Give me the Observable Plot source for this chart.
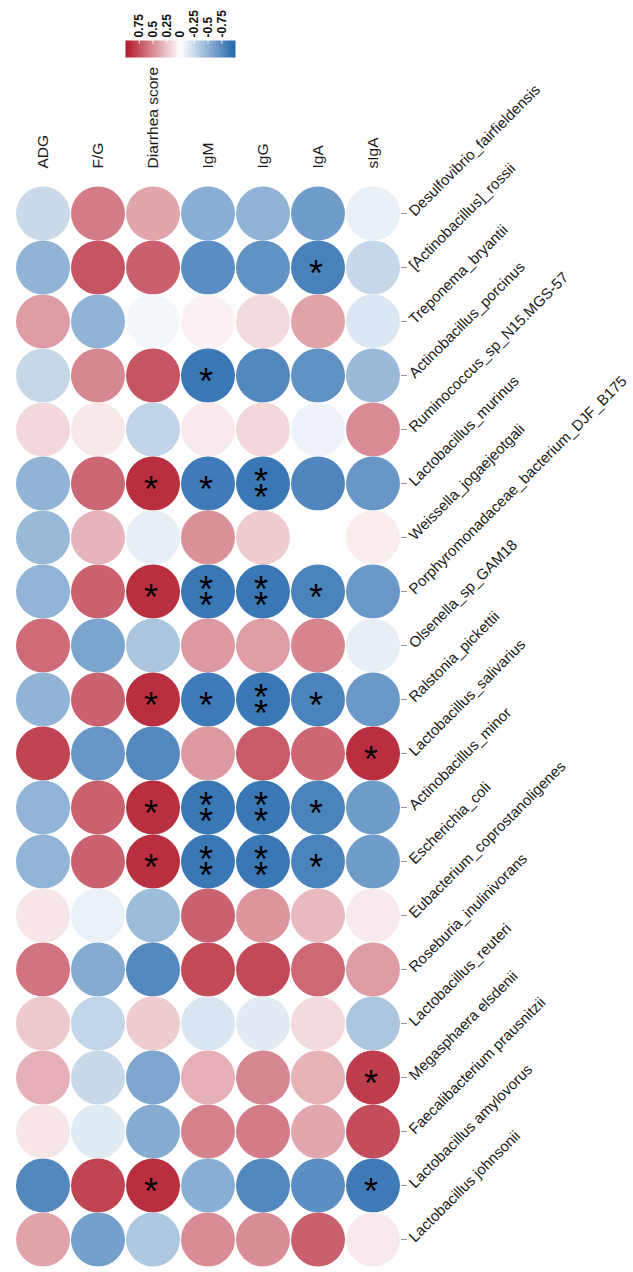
<!DOCTYPE html>
<html>
<head>
<meta charset="utf-8">
<script src="https://cdn.jsdelivr.net/npm/d3@7"></script>
<script src="https://cdn.jsdelivr.net/npm/@observablehq/plot@0.6"></script>
<style>
  body { margin: 0; background: #fff; }
  #wrap { position: relative; width: 633px; height: 1272px; overflow: hidden; }
  #legend { position: absolute; left: 0; top: 0; }
  #main { position: absolute; left: 0; top: 0; }
</style>
</head>
<body>
<div id="wrap"><div id="main"></div><div id="legend"></div></div>
<script>
const columns = ["ADG", "F/G", "Diarrhea score", "IgM", "IgG", "IgA", "sIgA"];
const taxa = [
  "Desulfovibrio_fairfieldensis",
  "[Actinobacillus]_rossii",
  "Treponema_bryantii",
  "Actinobacillus_porcinus",
  "Ruminococcus_sp_N15.MGS-57",
  "Lactobacillus_murinus",
  "Weissella_jogaejeotgali",
  "Porphyromonadaceae_bacterium_DJF_B175",
  "Olsenella_sp_GAM18",
  "Ralstonia_pickettii",
  "Lactobacillus_salivarius",
  "Actinobacillus_minor",
  "Escherichia_coli",
  "Eubacterium_coprostanoligenes",
  "Roseburia_inulinivorans",
  "Lactobacillus_reuteri",
  "Megasphaera elsdenii",
  "Faecalibacterium prausnitzii",
  "Lactobacillus amylovorus",
  "Lactobacillus johnsonii"
];
// correlation coefficients, one array per column (rows in taxa order)
const adg      = [-0.24, -0.50, 0.43, -0.26, 0.17, -0.50, -0.46, -0.49, 0.64, -0.50, 0.81, -0.49, -0.49, 0.11, 0.60, 0.23, 0.34, 0.11, -0.78, 0.40];
const fg       = [0.57, 0.74, -0.50, 0.52, 0.10, 0.66, 0.32, 0.68, -0.59, 0.68, -0.68, 0.68, 0.68, -0.09, -0.55, -0.27, -0.25, -0.14, 0.81, -0.62];
const diarrhea = [0.39, 0.69, -0.05, 0.74, -0.28, 0.90, -0.11, 0.90, -0.38, 0.90, -0.77, 0.90, 0.90, -0.44, -0.77, 0.22, -0.58, -0.54, 0.90, -0.36];
const igm      = [-0.53, -0.74, 0.06, -0.89, 0.09, -0.86, 0.48, -0.89, 0.44, -0.87, 0.44, -0.89, -0.89, 0.68, 0.79, -0.17, 0.34, 0.54, -0.53, 0.50];
const igg      = [-0.50, -0.71, 0.16, -0.78, 0.17, -0.89, 0.22, -0.89, 0.42, -0.89, 0.71, -0.89, -0.89, 0.46, 0.79, -0.13, 0.52, 0.57, -0.78, 0.49];
const iga      = [-0.65, -0.82, 0.40, -0.72, -0.08, -0.79, 0.00, -0.81, 0.53, -0.81, 0.66, -0.81, -0.81, 0.30, 0.65, 0.16, 0.33, 0.38, -0.74, 0.69];
const siga     = [-0.10, -0.26, -0.16, -0.45, 0.50, -0.68, 0.08, -0.67, -0.11, -0.67, 0.90, -0.65, -0.65, 0.09, 0.43, -0.37, 0.84, 0.77, -0.86, 0.09];
// significance marks
const sigADG      = ["","","","","","","","","","","","","","","","","","","",""];
const sigFG       = ["","","","","","","","","","","","","","","","","","","",""];
const sigDiarrhea = ["","","","","","*","","*","","*","","*","*","","","","","","*",""];
const sigIgM      = ["","","","*","","*","","**","","*","","**","**","","","","","","",""];
const sigIgG      = ["","","","","","**","","**","","**","","**","**","","","","","","",""];
const sigIgA      = ["","*","","","","","","*","","*","","*","*","","","","","","",""];
const sigSIgA     = ["","","","","","","","","","","*","","","","","","*","","*",""];
const legendTicks = [0.75, 0.5, 0.25, 0, -0.25, -0.5, -0.75];

const values = [adg, fg, diarrhea, igm, igg, iga, siga];
const sigs = [sigADG, sigFG, sigDiarrhea, sigIgM, sigIgG, sigIgA, sigSIgA];
const table = columns.flatMap((c, j) => taxa.map((t, i) => ({col: c, taxon: t, r: values[j][i], sig: sigs[j][i]})));

const colorScale = {type: "linear", domain: [-1, 0, 1], range: ["#2166ac", "#ffffff", "#b2182b"], interpolate: "rgb"};
const FONT = "Arial, 'Liberation Sans', sans-serif";

const main = Plot.plot({
  width: 633,
  height: 1272,
  marginLeft: 15,
  marginRight: 233,
  marginTop: 180,
  marginBottom: 0,
  style: {fontFamily: FONT, fontSize: "15px", color: "#1a1a1a", background: "transparent"},
  x: {type: "band", domain: columns, padding: 0, axis: null},
  y: {type: "band", domain: taxa, padding: 0, axis: null},
  color: colorScale,
  marks: [
    Plot.axisX({anchor: "top", tickRotate: -90, tickSize: 0, tickPadding: 12, label: null, fontSize: 15.5}),
    Plot.axisY({anchor: "right", tickRotate: -45, tickSize: 6, tickPadding: 5, stroke: "#999", label: null, fontSize: 15}),
    Plot.dot(table, {x: "col", y: "taxon", r: 27, fill: "r"}),
    Plot.text(table.filter(d => d.sig === "*"), {x: "col", y: "taxon", text: () => "*", fontSize: 36, dy: 7, dx: -2, fill: "#000"}),
    Plot.text(table.filter(d => d.sig === "**"), {x: "col", y: "taxon", text: () => "*", fontSize: 36, dy: -1, dx: -2, fill: "#000"}),
    Plot.text(table.filter(d => d.sig === "**"), {x: "col", y: "taxon", text: () => "*", fontSize: 36, dy: 15, dx: -2, fill: "#000"})
  ]
});
document.getElementById("main").append(main);

const legend = Plot.plot({
  width: 250,
  height: 60,
  marginLeft: 125,
  marginRight: 15,
  marginTop: 40,
  marginBottom: 3,
  style: {fontFamily: FONT, fontSize: "12px", fontWeight: "bold", color: "#111", background: "transparent"},
  x: {domain: [1, -1], axis: null},
  y: {domain: [0, 1], axis: null},
  color: colorScale,
  marks: [
    Plot.raster({x1: 1, x2: -1, y1: 0, y2: 1, fill: (x, y) => x, pixelSize: 1}),
    Plot.ruleX(legendTicks, {x: d => d, y1: 1, y2: 0.78, stroke: "#fff", strokeOpacity: 0.8}),
    Plot.axisX(legendTicks, {anchor: "top", tickRotate: -90, tickSize: 0, tickPadding: 3, label: null, tickFormat: d => String(d), fontWeight: "bold", fontSize: 12})
  ]
});
document.getElementById("legend").append(legend);
</script>
</body>
</html>
